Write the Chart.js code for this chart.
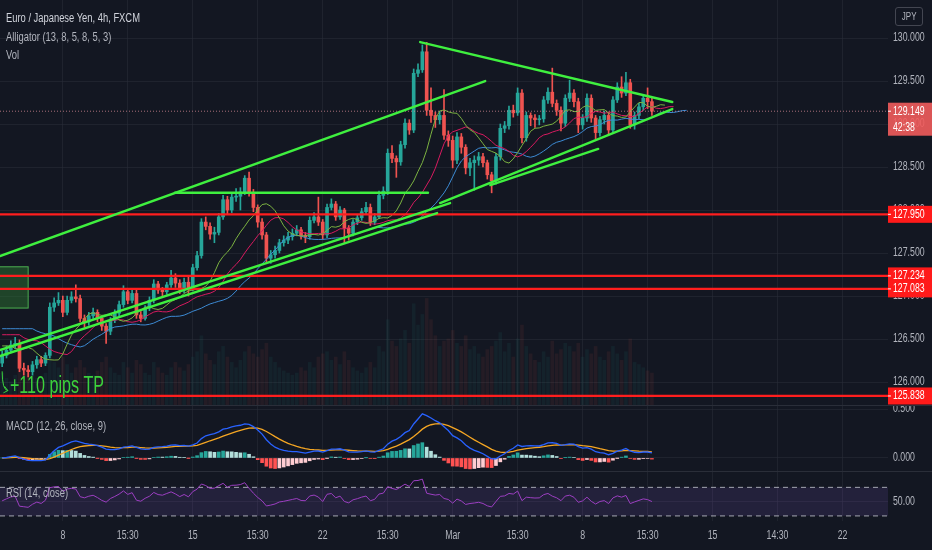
<!DOCTYPE html>
<html>
<head>
<meta charset="utf-8">
<script src="https://cdn.jsdelivr.net/npm/chart.js@4.4.1/dist/chart.umd.min.js"></script>
<style>
  html, body { margin: 0; padding: 0; background: #131722; }
  #wrap { position: relative; width: 932px; height: 550px; overflow: hidden; background: #131722;
          font-family: 'Liberation Sans', Arial, sans-serif; }
  .pane { position: absolute; left: 0; }
  #mainBox { top: 0; z-index: 3; }
  #macdBox { top: 405px; z-index: 2; }
  #rsiBox { top: 471px; z-index: 1; }
  .sep { position: absolute; left: 0; width: 932px; height: 1px; background: #2a2e39; z-index: 4; }
  .lbl { position: absolute; left: 6px; color: #b2b5be; font-size: 12.5px; line-height: 16px; z-index: 5;
         white-space: nowrap; transform: scaleX(0.75); transform-origin: 0 0; }
  #jpy { position: absolute; left: 895px; top: 7px; width: 26px; height: 17px; border: 1px solid #434651; border-radius: 3px;
         color: #b2b5be; font-size: 10px; line-height: 17px; text-align: center; z-index: 5; }
  #jpy span { display: inline-block; transform: scaleX(0.8); }
</style>
</head>
<body>
<div id="wrap">
  <div class="pane" id="mainBox"><canvas id="main" width="932" height="405"></canvas></div>
  <div class="pane" id="macdBox"><canvas id="macd" width="932" height="66"></canvas></div>
  <div class="pane" id="rsiBox"><canvas id="rsi" width="932" height="79"></canvas></div>
  <div class="sep" style="top:405px"></div>
  <div class="sep" style="top:471px"></div>
  <div class="lbl" style="top:10px;color:#d1d4dc">Euro / Japanese Yen, 4h, FXCM</div>
  <div class="lbl" style="top:29px">Alligator (13, 8, 5, 8, 5, 3)</div>
  <div class="lbl" style="top:47px">Vol</div>
  <div class="lbl" style="top:418px">MACD (12, 26, close, 9)</div>
  <div class="lbl" style="top:485px">RSI (14, close)</div>
  <div id="jpy"><span>JPY</span></div>
</div>
<script>
  // ---- Data (EUR/JPY 4h) ----
  const firstOpen = 126.22;
  const closes = [
    126.31, 126.37, 126.43, 126.45, 126.16, 126.14, 126.12, 126.20, 126.26, 126.22,
    126.31, 126.87, 126.92, 126.95, 126.81, 126.95, 126.99, 126.97, 126.74, 126.70,
    126.77, 126.81, 126.74, 126.65, 126.59, 126.72, 126.80, 126.90, 127.05, 126.95,
    127.03, 126.78, 126.74, 126.86, 126.95, 127.14, 127.07, 127.05, 127.13, 127.21,
    127.15, 127.07, 127.16, 127.09, 127.33, 127.47, 127.86, 127.81, 127.72, 127.74,
    127.92, 128.12, 128.00, 128.15, 128.16, 128.21, 128.37, 128.20, 128.03, 127.86,
    127.71, 127.44, 127.48, 127.53, 127.62, 127.65, 127.69, 127.73, 127.77, 127.70,
    127.69, 127.88, 127.92, 127.86, 127.71, 128.03, 128.07, 127.92, 128.00, 127.79,
    127.73, 127.86, 127.91, 127.98, 128.03, 127.86, 127.92, 128.17, 128.22, 128.66,
    128.60, 128.56, 128.76, 129.01, 128.93, 129.59, 129.63, 129.84, 129.16, 129.10,
    129.05, 129.10, 128.87, 128.81, 128.58, 128.85, 128.73, 128.49, 128.55, 128.58,
    128.62, 128.55, 128.41, 128.34, 128.62, 128.95, 128.98, 129.16, 129.13, 129.36,
    128.84, 129.10, 129.07, 129.05, 129.06, 129.28, 129.37, 129.24, 129.16, 129.01,
    129.30, 129.36, 129.26, 128.99, 129.07, 129.30, 129.07, 128.90, 129.05, 129.10,
    128.93, 129.28, 129.43, 129.36, 129.48, 128.99, 129.10, 129.20, 129.30, 129.26,
    129.149
  ];
  const highs = [
    126.36, 126.42, 126.48, 126.52, 126.49, 126.22, 126.19, 126.24, 126.30, 126.30,
    126.34, 126.92, 126.98, 127.04, 127.00, 127.00, 127.05, 127.13, 127.01, 126.78,
    126.81, 126.86, 126.84, 126.77, 126.68, 126.75, 126.84, 126.94, 127.12, 127.09,
    127.08, 127.07, 126.82, 126.89, 126.99, 127.19, 127.17, 127.10, 127.16, 127.30,
    127.26, 127.19, 127.21, 127.24, 127.37, 127.52, 127.90, 127.92, 127.85, 127.80,
    127.96, 128.17, 128.16, 128.19, 128.25, 128.26, 128.40, 128.44, 128.24, 128.06,
    127.90, 127.74, 127.53, 127.58, 127.66, 127.70, 127.74, 127.78, 127.82, 127.80,
    127.74, 127.92, 127.97, 128.15, 127.89, 128.07, 128.13, 128.10, 128.04, 128.02,
    127.82, 127.89, 127.95, 128.02, 128.09, 128.07, 127.96, 128.22, 128.27, 128.71,
    128.75, 128.63, 128.80, 129.06, 129.05, 129.64, 129.70, 129.92, 129.95, 129.42,
    129.14, 129.15, 129.40, 128.92, 128.86, 128.90, 128.89, 128.76, 128.60, 128.63,
    128.67, 128.66, 128.58, 128.44, 128.66, 129.00, 129.03, 129.21, 129.22, 129.42,
    129.40, 129.14, 129.13, 129.11, 129.10, 129.32, 129.42, 129.65, 129.28, 129.20,
    129.34, 129.51, 129.40, 129.30, 129.11, 129.35, 129.34, 129.10, 129.09, 129.15,
    129.14, 129.32, 129.48, 129.55, 129.60, 129.52, 129.14, 129.24, 129.34, 129.42,
    129.30
  ];
  const lows = [
    126.18, 126.28, 126.34, 126.39, 126.12, 126.08, 126.06, 126.08, 126.16, 126.18,
    126.19, 126.28, 126.82, 126.89, 126.76, 126.78, 126.92, 126.93, 126.70, 126.64,
    126.66, 126.74, 126.70, 126.60, 126.45, 126.55, 126.69, 126.77, 126.87, 126.91,
    126.92, 126.74, 126.70, 126.72, 126.83, 126.92, 127.03, 127.00, 127.02, 127.10,
    127.10, 127.03, 127.04, 127.00, 127.06, 127.30, 127.44, 127.77, 127.66, 127.62,
    127.71, 127.89, 127.95, 127.97, 128.10, 128.00, 128.18, 128.16, 127.98, 127.80,
    127.66, 127.40, 127.38, 127.44, 127.50, 127.58, 127.61, 127.65, 127.70, 127.66,
    127.62, 127.66, 127.85, 127.82, 127.66, 127.68, 128.00, 127.88, 127.89, 127.62,
    127.65, 127.70, 127.83, 127.88, 127.95, 127.82, 127.83, 127.90, 128.13, 128.18,
    128.55, 128.38, 128.52, 128.72, 128.88, 128.90, 129.55, 129.60, 129.10, 129.02,
    128.96, 129.00, 128.82, 128.74, 128.49, 128.54, 128.66, 128.42, 128.40, 128.23,
    128.52, 128.50, 128.36, 128.20, 128.30, 128.58, 128.90, 128.94, 129.08, 129.10,
    128.78, 128.80, 128.98, 128.96, 128.99, 129.02, 129.24, 129.20, 129.10, 128.92,
    128.97, 129.26, 129.20, 128.90, 128.94, 129.03, 129.02, 128.83, 128.86, 129.00,
    128.88, 128.90, 129.25, 129.31, 129.33, 128.95, 128.94, 129.06, 129.16, 129.18,
    129.10
  ];
  const volumes = [
    30, 25, 22, 28, 45, 35, 30, 28, 25, 22, 30,
    55, 40, 35, 45, 38, 30, 35, 42, 35, 30,
    28, 32, 40, 45, 35, 30, 28, 40, 35, 30,
    42, 38, 30, 28, 40, 35, 30, 28, 35, 40,
    35, 32, 38, 45, 50, 65, 48, 42, 38, 50,
    55, 45, 40, 35, 42, 50, 55, 48, 45, 52,
    58, 45, 40, 35, 32, 30, 28, 30, 35, 32,
    40, 35, 45, 48, 50, 42, 45, 38, 50, 42,
    35, 32, 30, 35, 40, 35, 55, 50, 80, 60,
    55, 62, 70, 58, 95, 75, 85, 100, 80, 65,
    55, 60, 62, 70, 58, 55, 65, 52, 55, 48,
    45, 52, 55, 60, 68, 50, 58, 45, 62, 75,
    55, 48, 42, 40, 50, 45, 60, 48, 52, 58,
    55, 50, 58, 45, 52, 48, 55, 45, 42, 50,
    55, 48, 42, 50, 62, 40, 38, 35, 32, 30
  ];
  const tickText = ['8', '15:30', '15', '15:30', '22', '15:30', 'Mar', '15:30', '8', '15:30', '15', '14:30', '22'];
  const tickStart = 14, tickEvery = 15, barSlots = 205;
  const priceTicks = [126.0, 126.5, 127.0, 127.5, 128.0, 128.5, 129.0, 129.5, 130.0];
  const macdTicks = [0, 0.5];
  const rsiTicks = [50];
  const levels = [127.950, 127.234, 127.083, 125.838];
  const lastPrice = 129.149, countdown = '42:38';
  // drawn lines: [bar from, price from, bar to, price to]
  const trendLines = [
    [-0.5, 127.465, 111.5, 129.50],
    [-0.5, 126.372, 103.4, 128.081],
    [-0.5, 126.302, 100.4, 127.965],
    [101.1, 128.081, 154.7, 129.174],
    [96.5, 129.953, 154.7, 129.256],
    [112.7, 128.29, 137.6, 128.71],
    [39.9, 128.20, 98.3, 128.20]
  ];
  const zoneBox = [-1, 127.34, 6.0, 126.86];
  const noteText = '+110 pips TP', notePos = [1.8, 125.87], noteArrow = [0.0, 126.12, 1.3, 125.90];
  // alligator start levels (history before the first bar)
  const jawSeed = 126.62, teethSeed = 126.55, lipsSeed = 126.42;

  // ---- Build ----
  const fam = "'Liberation Sans', Arial, sans-serif";
  const narrow = 0.7;
  Chart.defaults.font.family = fam;
  Chart.defaults.color = '#b2b5be';
  const gridColor = 'rgba(42,46,57,0.55)';
  const axisText = '#b2b5be';
  const up = '#26a69a', down = '#ef5350';

  const slots = Array.from({ length: barSlots }, (_, i) => i);
  const opens = closes.map((c, i) => i === 0 ? firstOpen : closes[i - 1]);
  const candleColors = closes.map((c, i) => c >= opens[i] ? up : down);
  const bodies = closes.map((c, i) => [opens[i], c]);
  const wicks = highs.map((h, i) => [lows[i], h]);
  const volColors = closes.map((c, i) => c >= opens[i] ? 'rgba(38,166,154,0.08)' : 'rgba(239,83,80,0.08)');

  function smma(src, n, seed) { let v = seed; return src.map(p => (v = (v * (n - 1) + p) / n)); }
  function shifted(vals, shift, seed) {
    const out = new Array(barSlots).fill(null);
    for (let k = 0; k < shift; k++) out[k] = seed;
    vals.forEach((v, i) => { out[i + shift] = v; });
    return out;
  }
  const medians = highs.map((h, i) => (h + lows[i]) / 2);
  const jawLine = shifted(smma(medians, 13, jawSeed), 8, jawSeed);
  const teethLine = shifted(smma(medians, 8, teethSeed), 5, teethSeed);
  const lipsLine = shifted(smma(medians, 5, lipsSeed), 3, lipsSeed);

  function ema(src, n) { const k = 2 / (n + 1); let v = src[0]; return src.map(p => (v = p * k + v * (1 - k))); }
  const e12 = ema(closes, 12), e26 = ema(closes, 26);
  const macdLine = e12.map((v, i) => v - e26[i]);
  const signalLine = ema(macdLine, 9);
  const hist = macdLine.map((v, i) => v - signalLine[i]);
  const histColors = hist.map((h, i) => {
    const prev = i ? hist[i - 1] : h;
    if (h >= 0) return h >= prev ? '#26a69a' : '#b2dfdb';
    return h < prev ? '#ff5252' : '#ffcdd2';
  });

  const rsi = [];
  let ag = 0.035, al = 0.04;
  closes.forEach((c, i) => {
    const d = c - opens[i];
    ag = (ag * 13 + Math.max(d, 0)) / 14;
    al = (al * 13 + Math.max(-d, 0)) / 14;
    rsi.push(100 - 100 / (1 + ag / al));
  });

  // condensed text, like the narrow UI font of the screenshot
  function narrowText(ctx, text, x, y, size, color, align, baseline) {
    ctx.save();
    ctx.font = size + 'px ' + fam;
    ctx.fillStyle = color;
    ctx.textAlign = align || 'left';
    ctx.textBaseline = baseline || 'middle';
    ctx.translate(x, y);
    ctx.scale(narrow, 1);
    ctx.fillText(text, 0, 0);
    ctx.restore();
  }

  function xAxis(labelSpace) {
    return {
      type: 'category', offset: true,
      grid: { color: gridColor, offset: false, drawTicks: false },
      border: { display: false },
      afterBuildTicks: s => { s.ticks = tickText.map((t, k) => ({ value: tickStart + k * tickEvery })); },
      ticks: { display: false },
      afterFit: s => { s.height = labelSpace; s.paddingLeft = 0; s.paddingRight = 0; }
    };
  }
  function yAxis(min, max, keep) {
    return {
      position: 'right', min, max,
      afterBuildTicks: s => { s.ticks = keep.map(v => ({ value: v })); },
      grid: { color: gridColor, drawTicks: false },
      border: { display: false },
      ticks: { display: false },
      afterFit: s => { s.width = 44; s.paddingTop = 0; s.paddingBottom = 0; }
    };
  }
  const base = {
    responsive: false, animation: false, events: [],
    layout: { padding: 0, autoPadding: false },
    plugins: { legend: { display: false }, tooltip: { enabled: false } }
  };

  const axisLabels = {
    id: 'axisLabels',
    afterDraw(chart, args, opts) {
      const { ctx, chartArea: a, scales: { x, y } } = chart;
      y.ticks.forEach(t => narrowText(ctx, t.value.toFixed(opts.digits), a.right + 5, y.getPixelForValue(t.value), 12.5, axisText));
      if (opts.showX) {
        tickText.forEach((t, k) => narrowText(ctx, t, x.getPixelForValue(tickStart + k * tickEvery), a.bottom + 15, 12.5, axisText, 'center'));
      }
    }
  };

  function drawLabelBox(ctx, area, yPix, h, fill, lines) {
    ctx.fillStyle = fill;
    ctx.fillRect(area.right, yPix - 8.5, 44, h);
    ctx.strokeStyle = '#ffffff'; ctx.lineWidth = 1;
    ctx.beginPath(); ctx.moveTo(area.right, yPix); ctx.lineTo(area.right + 3, yPix); ctx.stroke();
    lines.forEach((t, k) => narrowText(ctx, t, area.right + 5, yPix + k * 16, 12.5, '#ffffff'));
  }

  const overlay = {
    id: 'overlay',
    afterDatasetsDraw(chart) {
      const { ctx, chartArea: a, scales: { x, y } } = chart;
      const px = i => x.getPixelForValue(i), py = p => y.getPixelForValue(p);
      ctx.save();
      ctx.beginPath(); ctx.rect(a.left, a.top, a.right - a.left, a.bottom - a.top); ctx.clip();

      // shaded zone
      ctx.fillStyle = 'rgba(46,125,50,0.45)';
      ctx.strokeStyle = '#4caf50'; ctx.lineWidth = 1;
      const bx = px(zoneBox[0]), by = py(zoneBox[1]);
      ctx.fillRect(bx, by, px(zoneBox[2]) - bx, py(zoneBox[3]) - by);
      ctx.strokeRect(bx, by, px(zoneBox[2]) - bx, py(zoneBox[3]) - by);

      // last price
      ctx.setLineDash([1, 2]);
      ctx.strokeStyle = 'rgba(220,140,150,0.75)';
      ctx.beginPath(); ctx.moveTo(a.left, py(lastPrice)); ctx.lineTo(a.right, py(lastPrice)); ctx.stroke();
      ctx.setLineDash([]);

      // horizontal levels
      ctx.strokeStyle = '#ff1e1e'; ctx.lineWidth = 2.2;
      levels.forEach(l => { ctx.beginPath(); ctx.moveTo(a.left, py(l)); ctx.lineTo(a.right, py(l)); ctx.stroke(); });

      // trend lines
      ctx.strokeStyle = '#3ff03f'; ctx.lineWidth = 2.4; ctx.lineCap = 'round';
      trendLines.forEach(t => {
        ctx.beginPath(); ctx.moveTo(px(t[0]), py(t[1])); ctx.lineTo(px(t[2]), py(t[3])); ctx.stroke();
      });

      // note + arrow
      ctx.strokeStyle = '#3cd23c'; ctx.lineWidth = 1;
      const ax0 = px(noteArrow[0]), ay0 = py(noteArrow[1]), ax1 = px(noteArrow[2]), ay1 = py(noteArrow[3]);
      ctx.beginPath(); ctx.moveTo(ax0, ay0); ctx.quadraticCurveTo(ax0, ay1, ax1, ay1); ctx.stroke();
      ctx.beginPath(); ctx.moveTo(ax1 - 3, ay1 - 4); ctx.lineTo(ax1, ay1); ctx.lineTo(ax1 - 4, ay1 + 2); ctx.stroke();
      narrowText(ctx, noteText, px(notePos[0]), py(notePos[1]), 23, '#3cd23c', 'left', 'alphabetic');
      ctx.restore();
    },
    afterDraw(chart) {
      const { ctx, chartArea: a, scales: { y } } = chart;
      ctx.save();
      levels.forEach(l => drawLabelBox(ctx, a, y.getPixelForValue(l), 17, '#ff1a1a', [l.toFixed(3)]));
      drawLabelBox(ctx, a, y.getPixelForValue(lastPrice), 33, 'rgba(242,92,92,0.9)', [lastPrice.toFixed(3), countdown]);
      ctx.restore();
    }
  };

  new Chart(document.getElementById('main'), {
    type: 'bar',
    data: {
      labels: slots,
      datasets: [
        { type: 'line', data: lipsLine, borderColor: '#7cb342', borderWidth: 1, pointRadius: 0, yAxisID: 'y' },
        { type: 'line', data: teethLine, borderColor: '#d81b60', borderWidth: 1, pointRadius: 0, yAxisID: 'y' },
        { type: 'line', data: jawLine, borderColor: '#3d8bd4', borderWidth: 1, pointRadius: 0, yAxisID: 'y' },
        { data: bodies, backgroundColor: candleColors, barThickness: 3, grouped: false, minBarLength: 1, yAxisID: 'y' },
        { data: wicks, backgroundColor: candleColors, barThickness: 1, grouped: false, yAxisID: 'y' },
        { data: volumes, backgroundColor: volColors, barThickness: 3, grouped: false, yAxisID: 'yVol' }
      ]
    },
    options: Object.assign({}, base, {
      plugins: Object.assign({}, base.plugins, { axisLabels: { digits: 3, showX: false } }),
      scales: {
        x: xAxis(0),
        y: yAxis(125.733, 130.442, priceTicks),
        yVol: { display: false, min: 0, max: 380 }
      }
    }),
    plugins: [axisLabels, overlay]
  });

  new Chart(document.getElementById('macd'), {
    type: 'bar',
    data: {
      labels: slots,
      datasets: [
        { type: 'line', data: macdLine, borderColor: '#2962ff', borderWidth: 1.3, pointRadius: 0 },
        { type: 'line', data: signalLine, borderColor: '#f5a623', borderWidth: 1.3, pointRadius: 0 },
        { data: hist, backgroundColor: histColors, barThickness: 3, grouped: false }
      ]
    },
    options: Object.assign({}, base, {
      plugins: Object.assign({}, base.plugins, { axisLabels: { digits: 3, showX: false } }),
      scales: { x: xAxis(0), y: yAxis(-0.133, 0.541, macdTicks) }
    }),
    plugins: [axisLabels]
  });

  const rsiBand = {
    id: 'rsiBand',
    beforeDatasetsDraw(chart) {
      const { ctx, chartArea: a, scales: { y } } = chart;
      const y70 = y.getPixelForValue(70), y30 = y.getPixelForValue(30);
      ctx.save();
      ctx.fillStyle = 'rgba(126,87,194,0.16)';
      ctx.fillRect(a.left, y70, a.right - a.left, y30 - y70);
      ctx.strokeStyle = 'rgba(200,202,210,0.8)'; ctx.lineWidth = 1; ctx.setLineDash([5, 4]);
      [y70, y30].forEach(v => { ctx.beginPath(); ctx.moveTo(a.left, v); ctx.lineTo(a.right, v); ctx.stroke(); });
      ctx.restore();
    }
  };

  new Chart(document.getElementById('rsi'), {
    type: 'line',
    data: {
      labels: slots,
      datasets: [{ data: rsi, borderColor: '#9c3fc2', borderWidth: 1, pointRadius: 0 }]
    },
    options: Object.assign({}, base, {
      plugins: Object.assign({}, base.plugins, { axisLabels: { digits: 2, showX: true } }),
      scales: { x: xAxis(29), y: yAxis(22.9, 92.9, rsiTicks) }
    }),
    plugins: [rsiBand, axisLabels]
  });
</script>
</body>
</html>
